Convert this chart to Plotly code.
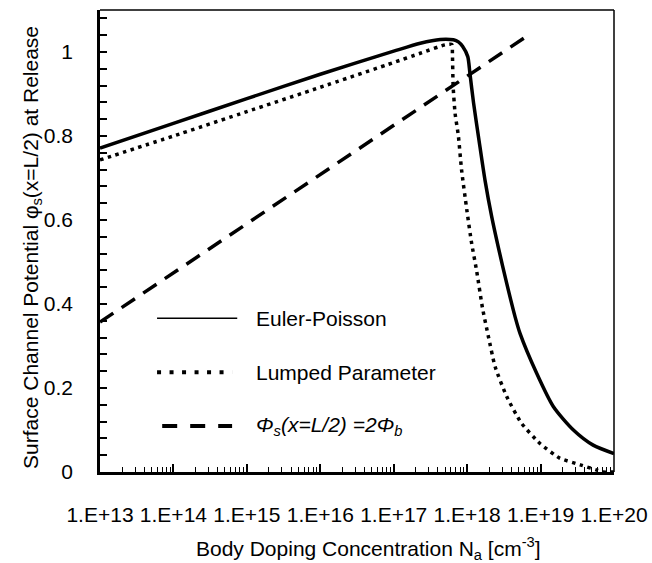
import plotly.graph_objects as go

# Body doping concentration (cm^-3) and surface channel potential (V)
euler_na = [1e13, 1e14, 1e15, 1e16, 1e17, 2.3e17, 4.3e17, 6.5e17, 7.6e17, 8.7e17,
            1.02e18, 1.09e18, 1.22e18, 1.45e18, 1.75e18, 2.16e18, 2.65e18, 3.46e18,
            4.49e18, 5.25e18, 8.85e18, 1.49e19, 2.8e19, 5.2e19, 1e20]
euler_phi = [0.771, 0.830, 0.889, 0.947, 1.002, 1.021, 1.030, 1.029, 1.024, 1.013,
             0.989, 0.950, 0.880, 0.790, 0.695, 0.608, 0.536, 0.449,
             0.370, 0.330, 0.235, 0.156, 0.100, 0.064, 0.044]

lumped_na = [1e13, 1e14, 1e15, 1e16, 1e17, 2.3e17, 5.0e17, 6.2e17, 6.3e17, 6.45e17,
             6.85e17, 7.6e17, 8.4e17, 9.9e17, 1.15e18, 1.35e18, 1.62e18, 1.95e18,
             2.4e18, 3.47e18, 5.5e18, 9.8e18, 1.82e19, 3.47e19, 5.75e19, 7e19, 1e20]
lumped_phi = [0.743, 0.800, 0.858, 0.916, 0.975, 0.997, 1.017, 1.018, 0.997, 0.917,
              0.854, 0.800, 0.719, 0.624, 0.545, 0.478, 0.390, 0.322,
              0.251, 0.179, 0.116, 0.068, 0.033, 0.017, 0.005, 0.0, 0.0]

twophib_na = [1e13, 1e14, 1e15, 1e16, 1e17, 1e18, 6.8e18]
twophib_phi = [0.357, 0.474, 0.591, 0.708, 0.825, 0.943, 1.040]

x_tickvals = [1e13, 1e14, 1e15, 1e16, 1e17, 1e18, 1e19, 1e20]
x_ticktext = ["1.E+13", "1.E+14", "1.E+15", "1.E+16", "1.E+17", "1.E+18", "1.E+19", "1.E+20"]

legend_labels = ["Euler-Poisson", "Lumped Parameter",
                 "<i>Φ<sub>s</sub>(x=L/2) =2Φ<sub>b</sub></i>"]

FONT = "Liberation Sans, Arial, sans-serif"

fig = go.Figure()
fig.add_trace(go.Scatter(x=euler_na, y=euler_phi, mode="lines",
                         line=dict(color="black", width=3.5, shape="spline", smoothing=0.7),
                         showlegend=False))
fig.add_trace(go.Scatter(x=lumped_na, y=lumped_phi, mode="lines",
                         line=dict(color="black", width=3.5, dash="3.5px,4.5px",
                                   shape="spline", smoothing=0.5),
                         showlegend=False))
fig.add_trace(go.Scatter(x=twophib_na, y=twophib_phi, mode="lines",
                         line=dict(color="black", width=3.5, dash="16px,10px"),
                         showlegend=False))

# Hand-drawn legend inside the plot area (paper coordinates)
legend_rows = [
    (0.333, dict(color="black", width=1.5), 0.111, 0.267),
    (0.216, dict(color="black", width=4, dash="4px,8.5px"), 0.111, 0.257),
    (0.0996, dict(color="black", width=4, dash="15px,13px"), 0.121, 0.257),
]
shapes = []
annotations = []
for (yp, ln, x0, x1), label in zip(legend_rows, legend_labels):
    shapes.append(dict(type="line", xref="paper", yref="paper",
                       x0=x0, x1=x1, y0=yp, y1=yp, line=ln))
    annotations.append(dict(xref="paper", yref="paper", x=0.299, y=yp,
                            xanchor="left", yanchor="middle", showarrow=False,
                            text=label, font=dict(family=FONT, size=21, color="black")))

# Thin top and right frame
shapes.append(dict(type="line", xref="paper", yref="paper", x0=0, x1=1, y0=1, y1=1,
                   line=dict(color="black", width=1.5)))
shapes.append(dict(type="line", xref="paper", yref="paper", x0=1, x1=1, y0=0, y1=1,
                   line=dict(color="black", width=1.5)))

# Axis titles
annotations.append(dict(xref="paper", yref="paper", x=0, y=0.485, xshift=-68,
                        xanchor="center", yanchor="middle", textangle=-90,
                        showarrow=False,
                        text="Surface Channel Potential φ<sub>s</sub>(x=L/2) at Release",
                        font=dict(family=FONT, size=21, color="black")))
annotations.append(dict(xref="paper", yref="paper", x=0.523, y=0, yshift=-76,
                        xanchor="center", yanchor="middle", showarrow=False,
                        text="Body Doping Concentration N<sub>a</sub> [cm<sup>-3</sup>]",
                        font=dict(family=FONT, size=21, color="black")))

minor_x = [m * 10.0 ** e for e in range(13, 20) for m in range(2, 10)]

fig.update_layout(
    width=652, height=563,
    margin=dict(l=100, r=38, t=10, b=91),
    paper_bgcolor="white", plot_bgcolor="white",
    font=dict(family=FONT, size=21, color="black"),
    shapes=shapes, annotations=annotations,
    xaxis=dict(
        type="log", range=[12.9999, 20.0001], automargin=False,
        tickmode="array", tickvals=x_tickvals, ticktext=x_ticktext, tickangle=0,
        ticks="inside", ticklen=8, tickwidth=1.5, tickcolor="black",
        ticklabelstandoff=22,
        minor=dict(tickmode="array", tickvals=minor_x, ticks="inside",
                   ticklen=5, tickwidth=1.3, tickcolor="black", showgrid=False),
        showline=True, linewidth=2.5, linecolor="black",
        showgrid=False, zeroline=False,
    ),
    yaxis=dict(
        range=[0, 1.1], tick0=0, dtick=0.2, automargin=False,
        ticks="inside", ticklen=7, tickwidth=1.5, tickcolor="black",
        ticklabelstandoff=20,
        minor=dict(dtick=0.04, tick0=0, ticks="inside", ticklen=7,
                   tickwidth=1.5, tickcolor="black", showgrid=False),
        showline=True, linewidth=2.5, linecolor="black",
        showgrid=False, zeroline=False,
    ),
)

fig.write_html("out.html")
